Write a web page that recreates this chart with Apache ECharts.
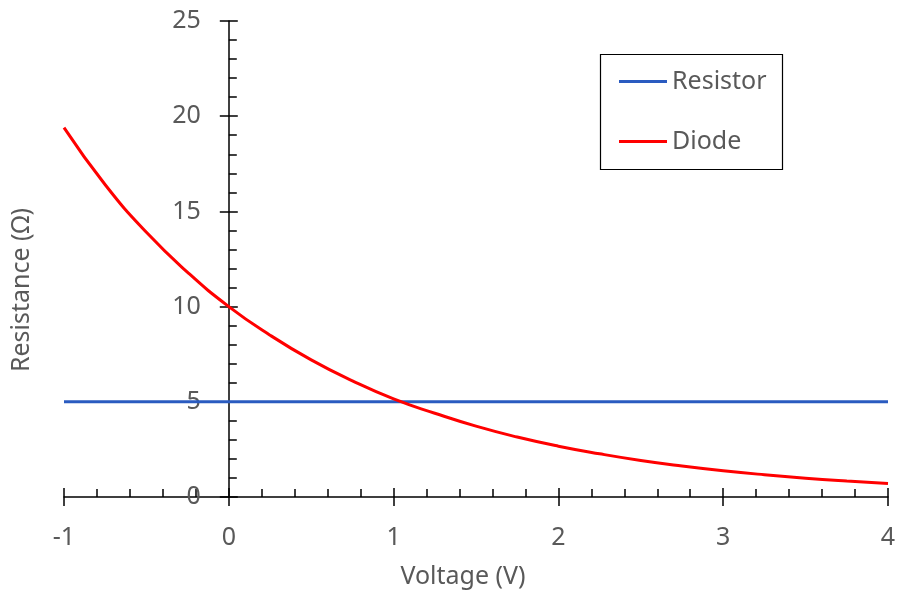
<!DOCTYPE html>
<html><head><meta charset="utf-8">
<script src="https://cdn.jsdelivr.net/npm/echarts@6/dist/echarts.min.js"></script>
<style>html,body{margin:0;padding:0;background:#fff}#c{width:900px;height:603px}</style>
</head><body><div id="c"></div>
<script>
const voltage = [-1, -0.75, -0.5, -0.25, 0, 0.25, 0.5, 0.75, 1, 1.25, 1.5, 1.75, 2, 2.25, 2.5, 2.75, 3, 3.25, 3.5, 3.75, 4];
const diode = [19.4, 16.4, 13.9, 11.8, 10.0, 8.5, 7.2, 6.1, 5.15, 4.4, 3.72, 3.15, 2.67, 2.27, 1.92, 1.63, 1.38, 1.17, 0.99, 0.84, 0.71];
const resistorX = [-1, 4];
const resistor = [5, 5];
const xTitle = 'Voltage (V)';
const yTitle = 'Resistance (Ω)';
const FONT = 'Noto Sans';
const FS = 25;
const GREY = '#595959';

const GRID_L = 64, GRID_R = 12;
const plotW = 900 - GRID_L - GRID_R;
const yAxisOffset = -plotW / 5; // y axis sits at voltage 0 (one unit from the left edge)

const chart = echarts.init(document.getElementById('c'));
const tickStyle = {color: '#000', width: 1.5};
chart.setOption({
  animation: false,
  grid: {left: GRID_L, right: GRID_R, top: 21, bottom: 106, containLabel: false},
  legend: {
    orient: 'vertical', left: 614, top: 64, itemGap: 35, itemWidth: 48, itemHeight: 3,
    icon: 'rect',
    textStyle: {fontFamily: FONT, fontSize: FS, color: GREY},
    data: ['Resistor', 'Diode']
  },
  xAxis: [
    {type: 'value', min: -1, max: 4, interval: 1, position: 'bottom',
     axisLine: {show: true, onZero: false, lineStyle: tickStyle}, splitLine: {show: false},
     axisTick: {show: true, inside: true, length: 9, lineStyle: tickStyle},
     minorTick: {show: true, splitNumber: 5, length: 8, lineStyle: tickStyle},
     axisLabel: {margin: 28, fontFamily: FONT, fontSize: FS, color: GREY}},
    {type: 'value', min: -1, max: 4, interval: 1, position: 'bottom',
     axisLine: {show: false, onZero: false}, splitLine: {show: false},
     axisTick: {show: true, inside: false, length: 9, lineStyle: tickStyle},
     axisLabel: {show: false}}
  ],
  yAxis: [
    {type: 'value', min: 0, max: 25, interval: 5, position: 'left', offset: yAxisOffset,
     axisLine: {show: true, onZero: false, lineStyle: tickStyle}, splitLine: {show: false},
     axisTick: {show: true, inside: true, length: 9, lineStyle: tickStyle},
     minorTick: {show: true, splitNumber: 5, length: 8, lineStyle: tickStyle},
     axisLabel: {margin: 28, fontFamily: FONT, fontSize: FS, color: GREY}},
    {type: 'value', min: 0, max: 25, interval: 5, position: 'left', offset: yAxisOffset,
     axisLine: {show: false, onZero: false}, splitLine: {show: false},
     axisTick: {show: true, inside: false, length: 9, lineStyle: tickStyle},
     axisLabel: {show: false}}
  ],
  graphic: [
    {type: 'rect', left: 598, top: 52, shape: {width: 182, height: 115},
     style: {fill: 'none', stroke: '#000', lineWidth: 1.2}, z: 0},
    {type: 'text', x: 463, y: 577, style: {text: xTitle, fontFamily: FONT, fontSize: FS, fill: GREY, textAlign: 'center', textVerticalAlign: 'middle'}},
    {type: 'text', x: 22, y: 290, rotation: Math.PI / 2, style: {text: yTitle, fontFamily: FONT, fontSize: FS, fill: GREY, textAlign: 'center', textVerticalAlign: 'middle'}}
  ],
  series: [
    {name: 'Resistor', type: 'line', xAxisIndex: 0, yAxisIndex: 0, showSymbol: false, symbol: 'none',
     data: resistorX.map((x, i) => [x, resistor[i]]),
     lineStyle: {color: '#2a5bc0', width: 3}, itemStyle: {color: '#2a5bc0'}},
    {name: 'Diode', type: 'line', xAxisIndex: 0, yAxisIndex: 0, showSymbol: false, symbol: 'none', smooth: true,
     data: voltage.map((x, i) => [x, diode[i]]),
     lineStyle: {color: '#ff0000', width: 3}, itemStyle: {color: '#ff0000'}}
  ]
});
</script></body></html>
